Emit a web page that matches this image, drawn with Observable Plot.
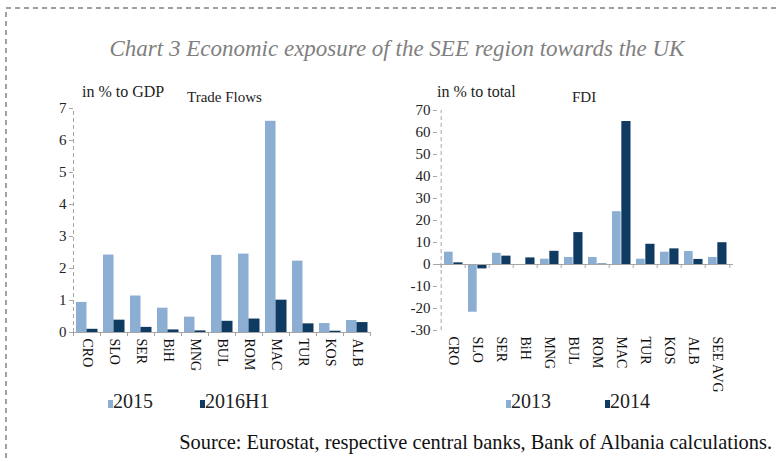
<!DOCTYPE html>
<html><head><meta charset="utf-8">
<script src="https://cdn.jsdelivr.net/npm/d3@7"></script>
<script src="https://cdn.jsdelivr.net/npm/@observablehq/plot@0.6"></script>
<style>
body{margin:0;background:#fff;}
#wrap{position:relative;width:778px;height:462px;overflow:hidden;font-family:"Liberation Serif",serif;background:#fff;}
#wrap > svg{position:absolute;}
</style></head><body><div id="wrap"></div>
<script>
const tradeCategories = ["CRO","SLO","SER","BiH","MNG","BUL","ROM","MAC","TUR","KOS","ALB"];
const trade2015 = [0.94,2.42,1.14,0.76,0.48,2.41,2.45,6.60,2.23,0.28,0.375];
const trade2016H1 = [0.10,0.385,0.16,0.08,0.05,0.35,0.42,1.01,0.27,0.04,0.31];
const tradeTicks = [0,1,2,3,4,5,6,7];

const fdiCategories = ["CRO","SLO","SER","BiH","MNG","BUL","ROM","MAC","TUR","KOS","ALB","SEE AVG"];
const fdi2013 = [5.6,-21.7,5.1,0,2.4,3.2,3.2,24.0,2.4,5.6,5.9,3.2];
const fdi2014 = [0.75,-2.0,3.8,3.0,6.0,14.5,0.2,65.0,9.2,7.1,2.3,9.9];
const fdiTicks = [-30,-20,-10,0,10,20,30,40,50,60,70];

const tradeSeries = ["2015","2016H1"];
const fdiSeries = ["2013","2014"];

const colorLight = "#8daed3";
const colorDark = "#0f3a61";
const axisGray = "#a6a6a6";
const textColor = "#222";

function makeChart(o){
  const {cats, a, b, ticks, width, height, ml, mr, mt, mb} = o;
  const yDomain = [ticks[0], ticks[ticks.length-1]];
  const step = (width - ml - mr) / cats.length;
  const gap = 3;
  const tickUnits = 4 * (yDomain[1]-yDomain[0]) / (height - mt - mb);
  const rows = cats.map((c,i)=>({c, a:a[i], b:b[i]}));
  return Plot.plot({
    width, height,
    marginLeft: ml, marginRight: mr, marginTop: mt, marginBottom: mb,
    style: {fontFamily: '"Liberation Serif", serif', fontSize: "15px", color: textColor, background: "transparent"},
    x: {type: "band", domain: cats, padding: 0, axis: null},
    y: {domain: yDomain, axis: null},
    marks: [
      Plot.barY(rows, {x: "c", y: "a", fill: colorLight, insetLeft: gap, insetRight: step/2}),
      Plot.barY(rows, {x: "c", y: "b", fill: colorDark, insetLeft: step/2, insetRight: gap - 0.5}),
      Plot.ruleY([0], {stroke: axisGray, strokeWidth: 1}),
      Plot.ruleX(cats, {x: d=>d, dx: -step/2, y1: 0, y2: -tickUnits, stroke: axisGray}),
      Plot.ruleX([cats[cats.length-1]], {x: d=>d, dx: step/2, y1: 0, y2: -tickUnits, stroke: axisGray}),
      Plot.ruleX([cats[0]], {x: d=>d, dx: -step/2, y1: yDomain[0], y2: yDomain[1], stroke: axisGray, strokeDasharray: "4,3"}),
      Plot.axisY({ticks, tickSize: 4, tickPadding: 3, stroke: axisGray, fill: textColor, fontSize: 15, tickFormat: d=>String(d), label: null}),
      Plot.axisX({anchor: "bottom", tickSize: 0, tickRotate: 90, tickPadding: 6, fill: "#111", fontSize: 14, label: null})
    ]
  });
}

const wrap = document.getElementById("wrap");

const left = makeChart({cats: tradeCategories, a: trade2015, b: trade2016H1, ticks: tradeTicks,
  width: 390, height: 330, ml: 73, mr: 20, mt: 18, mb: 88});
left.style.left = "0px"; left.style.top = "90px";
wrap.appendChild(left);

const right = makeChart({cats: fdiCategories, a: fdi2013, b: fdi2014, ticks: fdiTicks,
  width: 388, height: 330, ml: 47, mr: 45, mt: 20, mb: 90});
right.style.left = "390px"; right.style.top = "90px";
wrap.appendChild(right);

// overlay: border, title, labels, legends, source
const svg = d3.select(wrap).append("svg").attr("width", 778).attr("height", 462)
  .style("left","0px").style("top","0px").style("pointer-events","none");
svg.append("line").attr("x1",6).attr("x2",778).attr("y1",8).attr("y2",8)
  .attr("stroke","#444").attr("stroke-dasharray","5,4");
svg.append("line").attr("x1",6).attr("x2",6).attr("y1",12).attr("y2",462)
  .attr("stroke","#444").attr("stroke-dasharray","5,4");

const T = (x,y,txt,size,extra={})=>{
  const t = svg.append("text").attr("x",x).attr("y",y).text(txt)
    .attr("font-family",'"Liberation Serif", serif').attr("font-size",size).attr("fill", extra.fill||textColor);
  if (extra.italic) t.attr("font-style","italic");
  if (extra.anchor) t.attr("text-anchor", extra.anchor);
  return t;
};
T(397, 56, "Chart 3 Economic exposure of  the SEE region towards the UK", 23, {italic:true, fill:"#808080", anchor:"middle"});
T(82, 97, "in % to GDP", 16);
T(187, 102, "Trade Flows", 15);
T(437, 97, "in % to total", 16);
T(572, 102, "FDI", 15);

function legend(x, y, label, color){
  svg.append("rect").attr("x",x).attr("y",y-8).attr("width",5).attr("height",8).attr("fill",color);
  T(x+5, y, label, 20);
}
legend(108, 408, tradeSeries[0], colorLight);
legend(200, 408, tradeSeries[1], colorDark);
legend(506, 408, fdiSeries[0], colorLight);
legend(605, 408, fdiSeries[1], colorDark);

T(772, 449, "Source: Eurostat, respective central banks, Bank of  Albania calculations.", 20.4, {anchor:"end", fill:"#111"});
</script></body></html>
